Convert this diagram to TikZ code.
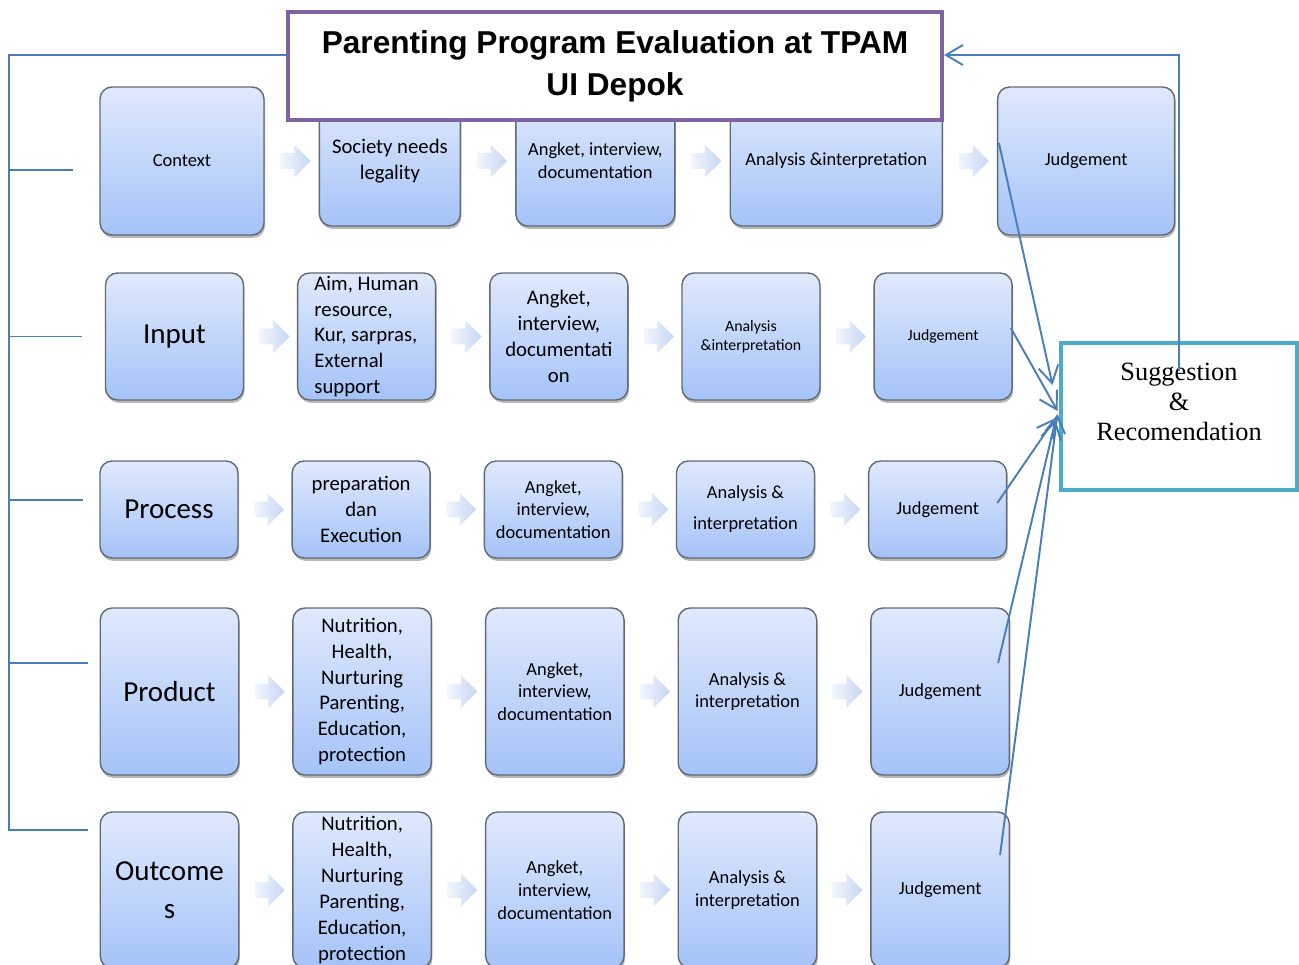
\documentclass[tikz,border=0pt]{standalone}
\usepackage{fontspec}
\setmainfont{Carlito}
\newfontfamily\titlefont{Liberation Sans}
\newfontfamily\suggfont{Liberation Serif}
\usepackage{xcolor}
\usepackage{tikz}
\usetikzlibrary{positioning,calc,shadows}
\usetikzlibrary{arrows.meta,shapes.arrows}

\definecolor{boxtop}{RGB}{224,233,252}
\definecolor{boxbot}{RGB}{164,195,248}
\definecolor{boxline}{RGB}{98,104,116}
\definecolor{linkblue}{RGB}{74,126,187}
\definecolor{titlepurple}{RGB}{128,100,162}
\definecolor{suggteal}{RGB}{75,172,198}
\definecolor{arrowleft}{RGB}{242,246,253}
\definecolor{arrowright}{RGB}{198,214,243}

\begin{document}
\begin{tikzpicture}[
        >={Straight Barb[length=3.4mm,width=4mm]},
        node distance=1.055cm,
        block/.style={rectangle,rounded corners=0.24cm,draw=boxline,line width=0.8pt,top color=boxtop,bottom color=boxbot,align=center,inner sep=1pt,
            drop shadow={shadow xshift=0.6pt,shadow yshift=-1.6pt,opacity=0.4,fill=black!70}},
        txthead/.style={font=\fontsize{16.5}{21.5}\selectfont},
        txtbig/.style={font=\fontsize{11.8}{14.7}\selectfont},
        txtmid/.style={font=\fontsize{10.5}{13}\selectfont},
        txtsmall/.style={font=\fontsize{9}{10.8}\selectfont},
        flowarrow/.style={single arrow,single arrow head extend=0.17cm,minimum height=0.6cm,inner sep=0.15cm,left color=arrowleft,right color=arrowright,draw=none},
        titlebox/.style={rectangle,draw=titlepurple,line width=2.3pt,fill=white,minimum width=13.08cm,minimum height=2.16cm,align=center,
            font=\titlefont\bfseries\fontsize{18}{23.8}\selectfont},
        suggbox/.style={rectangle,draw=suggteal,line width=2.8pt,fill=white,minimum width=4.72cm,minimum height=2.94cm,align=center,
            font=\suggfont\fontsize{15}{17}\selectfont},
        link/.style={draw=linkblue,line width=1.1pt},
        feed/.style={link,->}
    ]
        \useasboundingbox (0,0) rectangle (25.98,-19.28);
        \clip (0,0) rectangle (25.98,-19.28);

        % row 1: context
        \node[block,txtmid,minimum width=3.28cm,minimum height=2.96cm] (context) at (3.64,-3.22) {Context};
        \node[block,txtbig,minimum width=2.82cm,minimum height=2.6cm,right=1.08cm of context] (society) {Society needs\\legality};
        \node[block,txtmid,minimum width=3.18cm,minimum height=2.6cm,right=1.08cm of society] (angketA) {Angket, interview,\\documentation};
        \node[block,txtmid,minimum width=4.24cm,minimum height=2.6cm,right=1.08cm of angketA] (analysisA) {Analysis \&interpretation};
        \node[block,txtmid,minimum width=3.54cm,minimum height=2.96cm,right=1.08cm of analysisA] (judgeA) {Judgement};

        % row 2: input
        \node[block,txthead,minimum width=2.76cm,minimum height=2.54cm] (input) at (3.49,-6.73) {Input};
        \node[block,txtbig,align=left,minimum width=2.76cm,minimum height=2.54cm,right=of input] (aim) {Aim, Human\\resource,\\Kur, sarpras,\\External\\support};
        \node[block,txtbig,minimum width=2.76cm,minimum height=2.54cm,right=of aim] (angketB) {Angket,\\interview,\\documentati\\on};
        \node[block,txtsmall,minimum width=2.76cm,minimum height=2.54cm,right=of angketB] (analysisB) {Analysis\\\&interpretation};
        \node[block,txtsmall,minimum width=2.76cm,minimum height=2.54cm,right=of analysisB] (judgeB) {Judgement};

        % row 3: process
        \node[block,txthead,minimum width=2.76cm,minimum height=1.94cm] (process) at (3.38,-10.19) {Process};
        \node[block,txtbig,minimum width=2.76cm,minimum height=1.94cm,right=of process] (prep) {preparation\\dan\\Execution};
        \node[block,txtmid,minimum width=2.76cm,minimum height=1.94cm,right=of prep] (angketC) {Angket,\\interview,\\documentation};
        \node[block,font=\fontsize{10.5}{17.6}\selectfont,minimum width=2.76cm,minimum height=1.94cm,right=of angketC] (analysisC) {Analysis \&\\interpretation};
        \node[block,txtmid,minimum width=2.76cm,minimum height=1.94cm,right=of analysisC] (judgeC) {Judgement};

        % row 4: product
        \node[block,txthead,minimum width=2.77cm,minimum height=3.34cm] (product) at (3.39,-13.83) {Product};
        \node[block,txtbig,minimum width=2.77cm,minimum height=3.34cm,right=of product] (nutriD) {Nutrition,\\Health,\\Nurturing\\Parenting,\\Education,\\protection};
        \node[block,txtmid,minimum width=2.77cm,minimum height=3.34cm,right=of nutriD] (angketD) {Angket,\\interview,\\documentation};
        \node[block,txtmid,minimum width=2.77cm,minimum height=3.34cm,right=of angketD] (analysisD) {Analysis \&\\interpretation};
        \node[block,txtmid,minimum width=2.77cm,minimum height=3.34cm,right=of analysisD] (judgeD) {Judgement};

        % row 5: outcomes
        \node[block,txthead,minimum width=2.77cm,minimum height=3.12cm] (outcome) at (3.39,-17.8) {Outcome\\s};
        \node[block,txtbig,minimum width=2.77cm,minimum height=3.12cm,right=of outcome] (nutriE) {Nutrition,\\Health,\\Nurturing\\Parenting,\\Education,\\protection};
        \node[block,txtmid,minimum width=2.77cm,minimum height=3.12cm,right=of nutriE] (angketE) {Angket,\\interview,\\documentation};
        \node[block,txtmid,minimum width=2.77cm,minimum height=3.12cm,right=of angketE] (analysisE) {Analysis \&\\interpretation};
        \node[block,txtmid,minimum width=2.77cm,minimum height=3.12cm,right=of analysisE] (judgeE) {Judgement};

        % block arrows between the boxes
        \node[flowarrow] (arA1) at ($(context.east)!0.5!(society.west)$) {};
        \node[flowarrow] (arA2) at ($(society.east)!0.5!(angketA.west)$) {};
        \node[flowarrow] (arA3) at ($(angketA.east)!0.5!(analysisA.west)$) {};
        \node[flowarrow] (arA4) at ($(analysisA.east)!0.5!(judgeA.west)$) {};
        \node[flowarrow] (arB1) at ($(input.east)!0.5!(aim.west)$) {};
        \node[flowarrow] (arB2) at ($(aim.east)!0.5!(angketB.west)$) {};
        \node[flowarrow] (arB3) at ($(angketB.east)!0.5!(analysisB.west)$) {};
        \node[flowarrow] (arB4) at ($(analysisB.east)!0.5!(judgeB.west)$) {};
        \node[flowarrow] (arC1) at ($(process.east)!0.5!(prep.west)$) {};
        \node[flowarrow] (arC2) at ($(prep.east)!0.5!(angketC.west)$) {};
        \node[flowarrow] (arC3) at ($(angketC.east)!0.5!(analysisC.west)$) {};
        \node[flowarrow] (arC4) at ($(analysisC.east)!0.5!(judgeC.west)$) {};
        \node[flowarrow] (arD1) at ($(product.east)!0.5!(nutriD.west)$) {};
        \node[flowarrow] (arD2) at ($(nutriD.east)!0.5!(angketD.west)$) {};
        \node[flowarrow] (arD3) at ($(angketD.east)!0.5!(analysisD.west)$) {};
        \node[flowarrow] (arD4) at ($(analysisD.east)!0.5!(judgeD.west)$) {};
        \node[flowarrow] (arE1) at ($(outcome.east)!0.5!(nutriE.west)$) {};
        \node[flowarrow] (arE2) at ($(nutriE.east)!0.5!(angketE.west)$) {};
        \node[flowarrow] (arE3) at ($(angketE.east)!0.5!(analysisE.west)$) {};
        \node[flowarrow] (arE4) at ($(analysisE.east)!0.5!(judgeE.west)$) {};

        \node[titlebox] (title) at (12.3,-1.32) {Parenting Program Evaluation at TPAM\\UI Depok};
        \node[suggbox] (sugg) at (23.58,-8.33) {Suggestion\\\&\\Recomendation\\\mbox{}};

        % bracket on the left
        \coordinate (spine) at (0.18,-1.1);
        \coordinate (tipA) at ($(context.west)+(-0.52,-0.18)$);
        \coordinate (tipB) at ($(input.west)+(-0.46,0)$);
        \coordinate (tipC) at ($(process.west)+(-0.32,0.19)$);
        \coordinate (tipD) at ($(product.west)+(-0.24,0.57)$);
        \coordinate (tipE) at ($(outcome.west)+(-0.24,1.2)$);
        \draw[link] ([yshift=0.22cm]title.west) -- (spine) -- (spine |- tipE) -- (tipE);
        \draw[link] (spine |- tipA) -- (tipA);
        \draw[link] (spine |- tipB) -- (tipB);
        \draw[link] (spine |- tipC) -- (tipC);
        \draw[link] (spine |- tipD) -- (tipD);

        % judgements into suggestion
        \draw[feed] ($(judgeA.west)+(0.04,0.36)$) -- ($(sugg.west)+(-0.12,0.63)$);
        \draw[feed] ($(judgeB.east)+(-0.04,0.17)$) -- ($(sugg.west)+(-0.02,0.11)$);
        \draw[feed] ($(judgeC.east)+(-0.2,0.13)$) -- ($(sugg.west)+(-0.06,-0.03)$);
        \draw[feed] ($(judgeD.east)+(-0.24,0.57)$) -- ($(sugg.west)+(-0.06,-0.07)$);
        \draw[feed] ($(judgeE.east)+(-0.2,0.7)$) -- ($(sugg.west)+(-0.02,0.05)$);
        \draw[feed] ([yshift=-0.6cm]sugg.north) |- ([yshift=0.22cm]title.east);
    \end{tikzpicture}
\end{document}
